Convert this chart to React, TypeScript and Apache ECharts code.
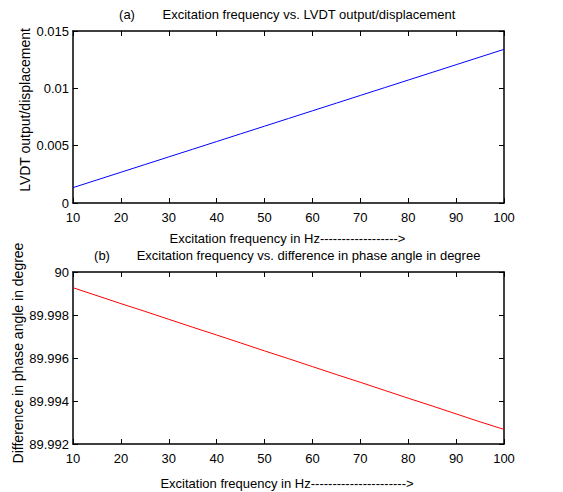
import React, { useEffect, useRef } from "react";
import * as echarts from "echarts";

const freq = [10, 15, 20, 25, 30, 35, 40, 45, 50, 55, 60, 65, 70, 75, 80, 85, 90, 95, 100];
const lvdtOutput = [
  0.00134, 0.00201, 0.00268, 0.00335, 0.00402, 0.00469, 0.00536, 0.00603, 0.0067, 0.00737,
  0.00804, 0.00871, 0.00938, 0.01005, 0.01072, 0.01139, 0.01206, 0.01273, 0.0134,
];
const phaseDiff = [
  89.99927, 89.9989, 89.99853, 89.99817, 89.9978, 89.99743, 89.99707, 89.9967, 89.99633, 89.99597,
  89.9956, 89.99523, 89.99487, 89.9945, 89.99413, 89.99377, 89.9934, 89.99303, 89.99268,
];
const topTitle = "Excitation frequency vs. LVDT output/displacement";
const bottomTitle = "Excitation frequency vs. difference in phase angle in degree";
const topXName = "Excitation frequency in Hz" + "-".repeat(18) + ">";
const bottomXName = "Excitation frequency in Hz" + "-".repeat(22) + ">";
const topYName = "LVDT output/displacement";
const bottomYName = "Difference in phase angle in degree";

const FONT = "'Liberation Sans', Arial, sans-serif";

export default function App() {
  const ref = useRef<HTMLDivElement>(null);
  useEffect(() => {
    if (!ref.current) return;
    const chart = echarts.init(ref.current, undefined, { renderer: "svg" });
    const lineStyle = { color: "#000", width: 1.5 };
    const tick = { show: true, inside: true, length: 5, lineStyle: { color: "#000", width: 1 } };
    const label = { color: "#000", fontSize: 13, fontFamily: FONT };
    const xMain = (gi: number) => ({
      type: "value",
      gridIndex: gi,
      min: 10,
      max: 100,
      interval: 10,
      position: "bottom",
      axisLine: { show: true, onZero: false, lineStyle },
      axisTick: tick,
      splitLine: { show: false },
      axisLabel: { ...label, margin: 8, showMinLabel: true, showMaxLabel: true },
    });
    const xMirror = (gi: number) => ({
      type: "value",
      gridIndex: gi,
      min: 10,
      max: 100,
      interval: 10,
      position: "top",
      axisLine: { show: true, onZero: false, lineStyle },
      axisTick: tick,
      splitLine: { show: false },
      axisLabel: { show: false },
    });
    const fmt = (d: number) => (v: number) => String(parseFloat(v.toFixed(d)));
    const yMain = (gi: number, min: number, max: number, interval: number, d: number) => ({
      type: "value",
      gridIndex: gi,
      min,
      max,
      interval,
      position: "left",
      axisLine: { show: true, onZero: false, lineStyle },
      axisTick: tick,
      splitLine: { show: false },
      axisLabel: { ...label, margin: 4, formatter: fmt(d), showMinLabel: true, showMaxLabel: true },
    });
    const yMirror = (gi: number, min: number, max: number, interval: number) => ({
      type: "value",
      gridIndex: gi,
      min,
      max,
      interval,
      position: "right",
      axisLine: { show: true, onZero: false, lineStyle },
      axisTick: tick,
      splitLine: { show: false },
      axisLabel: { show: false },
    });
    const text = (x: number, y: number, t: string, size = 13, rotation = 0) => ({
      type: "text",
      x,
      y,
      rotation,
      style: {
        text: t,
        fill: "#000",
        font: `${size}px ${FONT}`,
        align: "center",
        verticalAlign: "middle",
      },
    });
    chart.setOption({
      animation: false,
      backgroundColor: "#fff",
      grid: [
        { left: 73, right: 59, top: 31, height: 172 },
        { left: 73, right: 59, top: 272, height: 172 },
      ],
      xAxis: [xMain(0), xMirror(0), xMain(1), xMirror(1)],
      yAxis: [
        yMain(0, 0, 0.015, 0.005, 4),
        yMirror(0, 0, 0.015, 0.005),
        yMain(1, 89.992, 90, 0.002, 3),
        yMirror(1, 89.992, 90, 0.002),
      ],
      series: [
        {
          type: "line",
          xAxisIndex: 0,
          yAxisIndex: 0,
          data: freq.map((f, i) => [f, lvdtOutput[i]]),
          showSymbol: false,
          lineStyle: { color: "#0000ff", width: 1 },
          itemStyle: { color: "#0000ff" },
        },
        {
          type: "line",
          xAxisIndex: 2,
          yAxisIndex: 2,
          data: freq.map((f, i) => [f, phaseDiff[i]]),
          showSymbol: false,
          lineStyle: { color: "#ff0000", width: 1 },
          itemStyle: { color: "#ff0000" },
        },
      ],
      graphic: [
        text(127, 14, "(a)"),
        text(309, 14, topTitle),
        text(287.5, 238, topXName),
        text(25, 110, topYName, 14, Math.PI / 2),
        text(102, 255, "(b)"),
        text(308.5, 255, bottomTitle),
        text(287, 483, bottomXName),
        text(18, 353, bottomYName, 14, Math.PI / 2),
      ],
    });
    return () => chart.dispose();
  }, []);
  return (
    <div
      ref={ref}
      style={{ position: "fixed", left: 0, top: 0, width: 563, height: 492, background: "#fff" }}
    />
  );
}
